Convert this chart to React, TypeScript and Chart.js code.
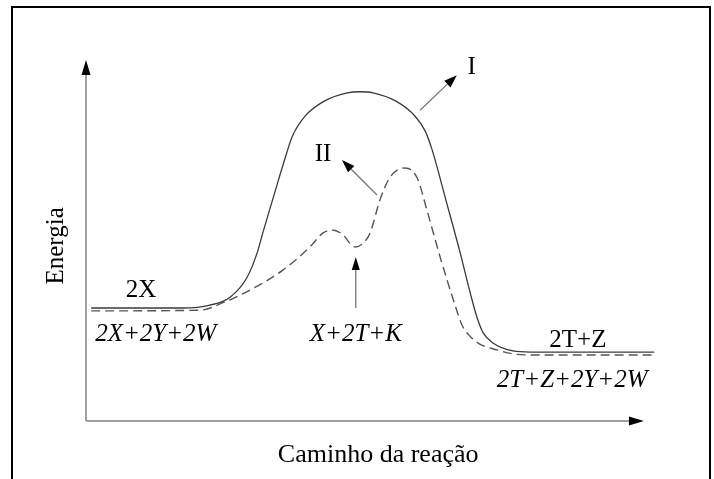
import React, { useEffect, useRef } from "react";
import { Chart, registerables } from "chart.js";

Chart.register(...registerables);

// Reaction path (x: 0-100 reaction coordinate, y: 0-100 energy, arbitrary units)
const pathIX = [0.9, 16.9, 21.6, 25.1, 28.0, 29.8, 30.8, 32.9, 34.8, 35.9, 38.2, 41.5, 45.5, 47.7, 50.0, 54.0, 57.3, 59.1, 60.3, 62.7, 65.2, 66.9, 68.1, 69.2, 70.9, 74.4, 77.4, 99.0];
const pathIY = [31.3, 31.3, 32.1, 34.3, 39.6, 46.5, 52.1, 63.4, 73.4, 78.7, 84.5, 88.6, 90.9, 91.2, 90.9, 88.6, 84.5, 80.3, 75.1, 61.2, 46.5, 35.7, 28.8, 24.4, 21.6, 19.4, 19.1, 19.1];

const pathIIX = [0.9, 19.9, 24.2, 28.6, 34.3, 39.0, 41.3, 42.9, 44.6, 46.9, 48.3, 49.5, 51.2, 53.0, 55.6, 57.7, 59.4, 61.7, 64.3, 65.5, 66.9, 68.6, 71.6, 74.4, 77.4, 99.0];
const pathIIY = [30.5, 30.7, 33.0, 36.3, 41.8, 48.2, 52.1, 52.9, 51.8, 48.2, 49.3, 52.1, 61.2, 67.6, 70.1, 67.3, 58.4, 45.4, 32.1, 26.6, 23.5, 21.3, 19.7, 18.6, 18.3, 18.3];

const xAxisTitle = "Caminho da reação";
const yAxisTitle = "Energia";
const curveLabels = ["I", "II"];
const speciesLabels = ["2X", "2X+2Y+2W", "X+2T+K", "2T+Z", "2T+Z+2Y+2W"];

const toPoints = (xs: number[], ys: number[]) => xs.map((x, i) => ({ x, y: ys[i] }));

function arrow(ctx: CanvasRenderingContext2D, x1: number, y1: number, x2: number, y2: number, lineColor: string, lw: number, headLen = 14, headHalf = 4.5) {
  const ang = Math.atan2(y2 - y1, x2 - x1);
  const bx = x2 - headLen * Math.cos(ang);
  const by = y2 - headLen * Math.sin(ang);
  ctx.save();
  ctx.strokeStyle = lineColor;
  ctx.lineWidth = lw;
  ctx.beginPath();
  ctx.moveTo(x1, y1);
  ctx.lineTo(bx, by);
  ctx.stroke();
  ctx.fillStyle = "#000";
  ctx.beginPath();
  ctx.moveTo(x2, y2);
  ctx.lineTo(bx + headHalf * Math.sin(ang), by - headHalf * Math.cos(ang));
  ctx.lineTo(bx - headHalf * Math.sin(ang), by + headHalf * Math.cos(ang));
  ctx.closePath();
  ctx.fill();
  ctx.restore();
}

const decorPlugin = {
  id: "decor",
  afterDraw(chart: any) {
    const ctx: CanvasRenderingContext2D = chart.ctx;
    const xs = chart.scales.x;
    const ys = chart.scales.y;
    const X = (v: number) => xs.getPixelForValue(v);
    const Y = (v: number) => ys.getPixelForValue(v);
    ctx.save();
    // frame
    ctx.strokeStyle = "#000";
    ctx.lineWidth = 2;
    ctx.beginPath();
    ctx.moveTo(12, 479);
    ctx.lineTo(12, 7);
    ctx.lineTo(710, 7);
    ctx.lineTo(710, 479);
    ctx.stroke();

    // axes
    arrow(ctx, X(0), Y(0), X(0), Y(100), "#a0a0a0", 2, 15, 4.5);
    arrow(ctx, X(0), Y(0), X(97.2), Y(0), "#a0a0a0", 2, 15, 4.5);

    // annotation arrows
    arrow(ctx, X(58.2), Y(86.1), X(64.6), Y(95.8), "#777", 1.3, 13, 4.5);
    arrow(ctx, X(50.7), Y(62.6), X(44.6), Y(72.3), "#777", 1.3, 13, 4.5);
    arrow(ctx, X(47.0), Y(31.3), X(47.0), Y(45.4), "#777", 1.3, 13, 4);

    ctx.fillStyle = "#000";
    ctx.textBaseline = "alphabetic";
    const serif = '"Liberation Serif", "Times New Roman", serif';
    ctx.font = `26px ${serif}`;
    ctx.textAlign = "center";
    ctx.fillText(xAxisTitle, X(50.9), Y(-11.4));
    ctx.font = `25px ${serif}`;
    ctx.fillText(curveLabels[0], X(67.2), Y(96.1));
    ctx.fillText(curveLabels[1], X(41.3), Y(72.0));
    ctx.fillText(speciesLabels[0], X(9.6), Y(34.3));
    ctx.fillText(speciesLabels[3], X(85.7), Y(20.5));

    ctx.font = `italic 25px ${serif}`;
    ctx.textAlign = "left";
    ctx.fillText(speciesLabels[1], X(1.6), Y(22.2));
    ctx.textAlign = "center";
    ctx.fillText(speciesLabels[2], X(47.0), Y(22.2));
    ctx.fillText(speciesLabels[4], X(84.7), Y(9.4));

    ctx.font = `25px ${serif}`;
    ctx.save();
    ctx.translate(X(-5.2), Y(48.5));
    ctx.rotate(-Math.PI / 2);
    ctx.textBaseline = "middle";
    ctx.textAlign = "center";
    ctx.fillText(yAxisTitle, 0, 0);
    ctx.restore();

    ctx.restore();
  },
};

export default function App() {
  const ref = useRef<HTMLCanvasElement | null>(null);
  useEffect(() => {
    document.body.style.margin = "0";
    if (!ref.current) return;
    const chart = new Chart(ref.current, {
      type: "line",
      data: {
        datasets: [
          {
            label: "I",
            data: toPoints(pathIX, pathIY),
            borderColor: "#3a3a3a",
            borderWidth: 1.3,
            pointRadius: 0,
            cubicInterpolationMode: "monotone",
            fill: false,
          },
          {
            label: "II",
            data: toPoints(pathIIX, pathIIY),
            borderColor: "#555",
            borderWidth: 1.4,
            borderDash: [9, 5],
            pointRadius: 0,
            cubicInterpolationMode: "monotone",
            fill: false,
          },
        ],
      },
      options: {
        responsive: false,
        animation: false,
        layout: { padding: { left: 86, right: 54, top: 60, bottom: 58 } },
        scales: {
          x: { type: "linear", min: 0, max: 100, display: false },
          y: { type: "linear", min: 0, max: 100, display: false },
        },
        plugins: { legend: { display: false }, tooltip: { enabled: false } },
      },
      plugins: [decorPlugin],
    } as any);
    return () => chart.destroy();
  }, []);
  return (
    <div style={{ width: 714, height: 479, background: "#fff" }}>
      <canvas ref={ref} width={714} height={479} style={{ width: 714, height: 479, display: "block" }} />
    </div>
  );
}
